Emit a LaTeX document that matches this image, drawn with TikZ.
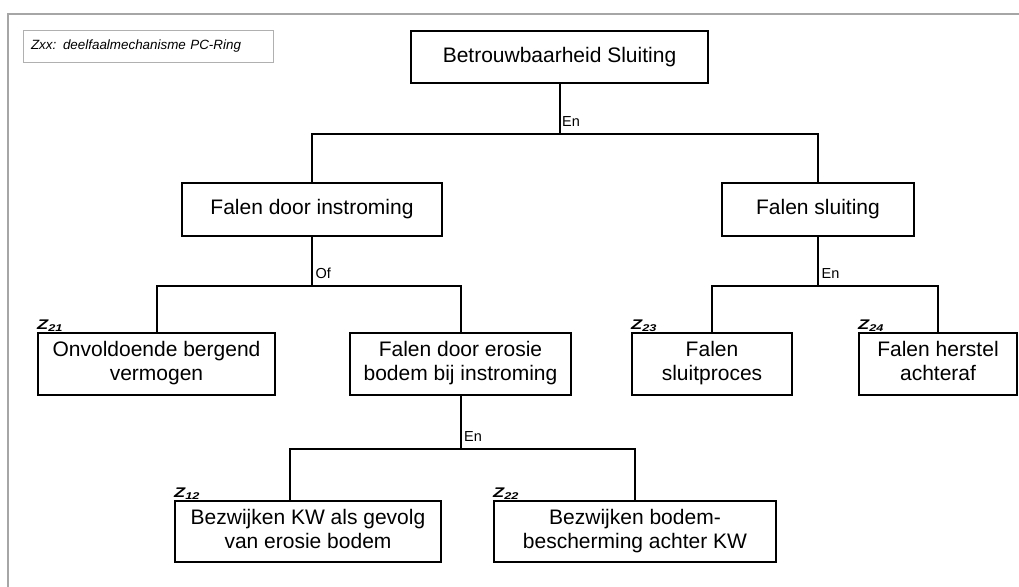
\documentclass[tikz,border=0pt]{standalone}
\usepackage{fontspec}
\setmainfont{Liberation Sans}
\usepackage{graphicx}
\usetikzlibrary{calc}
\definecolor{framegray}{HTML}{A6A6A6}
\definecolor{titlegray}{HTML}{B0B0B0}
\newcommand{\twolines}[2]{\raisebox{-3pt}{\begin{tabular}{@{}c@{}}#1\\#2\end{tabular}}}
\begin{document}
\begin{tikzpicture}[x=1pt,y=-1pt,
  box/.style={draw=black, line width=2pt, rectangle, inner sep=0pt, align=center, font=\fontsize{21}{24}\selectfont},
  conn/.style={draw=black, line width=2pt},
  gate/.style={anchor=base west, inner sep=0pt, font=\fontsize{14.5}{16}\selectfont},
  zlab/.style={anchor=base west, inner sep=0pt, font=\fontsize{14}{15}\selectfont\bfseries\itshape, yshift=2.5pt}
]
\useasboundingbox (0,0) rectangle (1019,586);
\draw[framegray, line width=2pt] (8,587) -- (8,14.5) -- (1020,14.5);

\node[draw=titlegray, line width=0.8pt, minimum width=250pt, minimum height=32pt, text width=234pt, inner xsep=8pt, inner ysep=0pt, align=left, font=\fontsize{13.4}{15}\selectfont\itshape] (title) at (148,46) {Zxx: deelfaalmechanisme PC-Ring};

\node[box, minimum width=297pt, minimum height=52pt] (top) at (559.5,57) {Betrouwbaarheid Sluiting};
\node[box, minimum width=260pt, minimum height=53pt] (fdi) at (312,209.5) {Falen door instroming};
\node[box, minimum width=192pt, minimum height=53pt] (fs) at (818,209.5) {Falen sluiting};
\node[box, minimum width=237pt, minimum height=62pt] (onv) at (156.5,364) {\twolines{Onvoldoende bergend}{vermogen}};
\node[box, minimum width=221pt, minimum height=62pt] (ero) at (460.5,364) {\twolines{Falen door erosie}{bodem bij instroming}};
\node[box, minimum width=160pt, minimum height=62pt] (fsp) at (712,364) {\twolines{Falen}{sluitproces}};
\node[box, minimum width=158pt, minimum height=62pt] (fha) at (938,364) {\twolines{Falen herstel}{achteraf}};
\node[box, minimum width=266pt, minimum height=61pt] (bkw) at (308,531.5) {\twolines{Bezwijken KW als gevolg}{van erosie bodem}};
\node[box, minimum width=282pt, minimum height=61pt] (bbb) at (635,531.5) {\twolines{Bezwijken bodem-}{bescherming achter KW}};

% level 1
\coordinate (j0) at ($(top.south)+(0,50)$);
\draw[conn] (top.south) -- (j0);
\draw[conn] (fdi.north) |- (j0);
\draw[conn] (fs.north) |- (j0);
\node[gate] (g0) at ($(j0)+(2.5,-8)$) {En};

% level 2 left
\coordinate (j1) at ($(fdi.south)+(0,49)$);
\draw[conn] (fdi.south) -- (j1);
\draw[conn] (onv.north) |- (j1);
\draw[conn] (ero.north) |- (j1);
\node[gate] (g1) at ($(j1)+(3.5,-8)$) {Of};

% level 2 right
\coordinate (j2) at ($(fs.south)+(0,49)$);
\draw[conn] (fs.south) -- (j2);
\draw[conn] (fsp.north) |- (j2);
\draw[conn] (fha.north) |- (j2);
\node[gate] (g2) at ($(j2)+(3.5,-8)$) {En};

% level 3
\coordinate (j3) at ($(ero.south)+(0,53)$);
\coordinate (bkwc) at ($(bkw.north west)!0.432!(bkw.north east)$);
\draw[conn] (ero.south) -- (j3);
\draw[conn] (bkwc) |- (j3);
\draw[conn] (bbb.north) |- (j3);
\node[gate] (g3) at ($(j3)+(3.5,-8)$) {En};

% Z labels
\node[zlab] (z21) at (onv.north west) {\scalebox{1.3}[1]{Z\textsubscript{21}}};
\node[zlab] (z23) at (fsp.north west) {\scalebox{1.3}[1]{Z\textsubscript{23}}};
\node[zlab] (z24) at (fha.north west) {\scalebox{1.3}[1]{Z\textsubscript{24}}};
\node[zlab] (z12) at (bkw.north west) {\scalebox{1.3}[1]{Z\textsubscript{12}}};
\node[zlab] (z22) at (bbb.north west) {\scalebox{1.3}[1]{Z\textsubscript{22}}};
\end{tikzpicture}
\end{document}
